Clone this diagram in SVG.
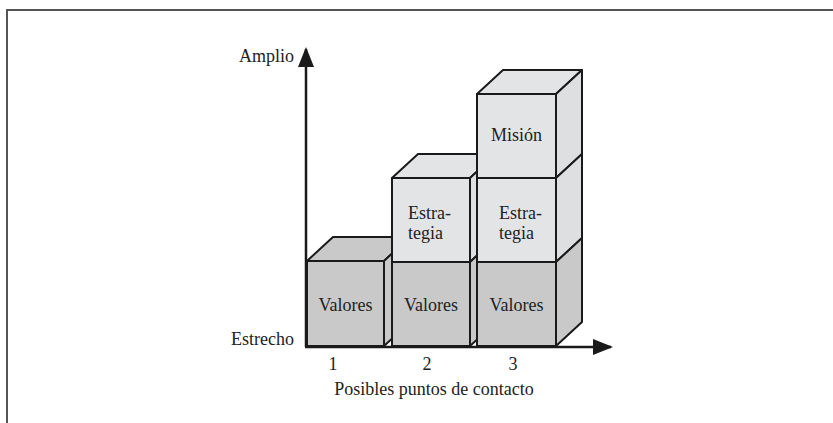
<svg xmlns="http://www.w3.org/2000/svg" width="833" height="423" viewBox="0 0 833 423">
<defs>
<style>
.t{font-family:"Liberation Serif","Times New Roman",serif;font-size:18px;fill:#222}
.f{stroke:#1a1a1a;stroke-width:2;stroke-linejoin:round}
.dk{fill:#c9c9ca}
.lt{fill:#e3e4e6}
.ls{fill:#dedfe1}
.ax{stroke:#1a1a1a;stroke-width:2.5;fill:none}
</style>
<marker id="ah" viewBox="0 0 20 16" refX="18" refY="8" markerWidth="20" markerHeight="16" markerUnits="userSpaceOnUse" orient="auto">
<path d="M0,0 L20,8 L0,16 Z" fill="#1a1a1a"/>
</marker>
</defs>
<rect width="833" height="423" fill="#fff"/>
<path d="M7,423 V10 H833" fill="none" stroke="#555" stroke-width="2"/>

<g id="col1">
<polygon class="f dk" points="307,261 333,237 410,237 384,261"/>
<polygon class="f dk" points="384,261 410,237 410,322 384,346"/>
<rect class="f dk" x="307" y="261" width="77" height="85"/>
<text class="t" x="345.5" y="311" text-anchor="middle">Valores</text>
</g>

<g id="col2">
<polygon class="f lt" points="392,178 418,154 496,154 470,178"/>
<polygon class="f ls" points="470,178 496,154 496,238 470,262"/>
<polygon class="f dk" points="470,262 496,238 496,322 470,346"/>
<rect class="f lt" x="392" y="178" width="78" height="84"/>
<rect class="f dk" x="392" y="262" width="78" height="84"/>
<text class="t" x="408" y="219">Estra-</text>
<text class="t" x="408" y="239">tegia</text>
<text class="t" x="431" y="311" text-anchor="middle">Valores</text>
</g>

<g id="col3">
<polygon class="f lt" points="477,94 503,70 582,70 556,94"/>
<polygon class="f ls" points="556,94 582,70 582,154 556,178"/>
<polygon class="f ls" points="556,178 582,154 582,238 556,262"/>
<polygon class="f dk" points="556,262 582,238 582,322 556,346"/>
<rect class="f lt" x="477" y="94" width="79" height="84"/>
<rect class="f lt" x="477" y="178" width="79" height="84"/>
<rect class="f dk" x="477" y="262" width="79" height="84"/>
<text class="t" x="516.5" y="141" text-anchor="middle">Misión</text>
<text class="t" x="499" y="219">Estra-</text>
<text class="t" x="499" y="239">tegia</text>
<text class="t" x="516.5" y="311" text-anchor="middle">Valores</text>
</g>

<g id="axes">
<line class="ax" x1="306" y1="347" x2="306" y2="49" marker-end="url(#ah)"/>
<line class="ax" x1="305" y1="347" x2="611" y2="347" marker-end="url(#ah)"/>
</g>

<g id="labels">
<text class="t" x="294" y="62" text-anchor="end">Amplio</text>
<text class="t" x="294" y="345" text-anchor="end">Estrecho</text>
<text class="t" x="333" y="370" text-anchor="middle">1</text>
<text class="t" x="427" y="370" text-anchor="middle">2</text>
<text class="t" x="513" y="370" text-anchor="middle">3</text>
<text class="t" x="434" y="395" text-anchor="middle">Posibles puntos de contacto</text>
</g>
</svg>
